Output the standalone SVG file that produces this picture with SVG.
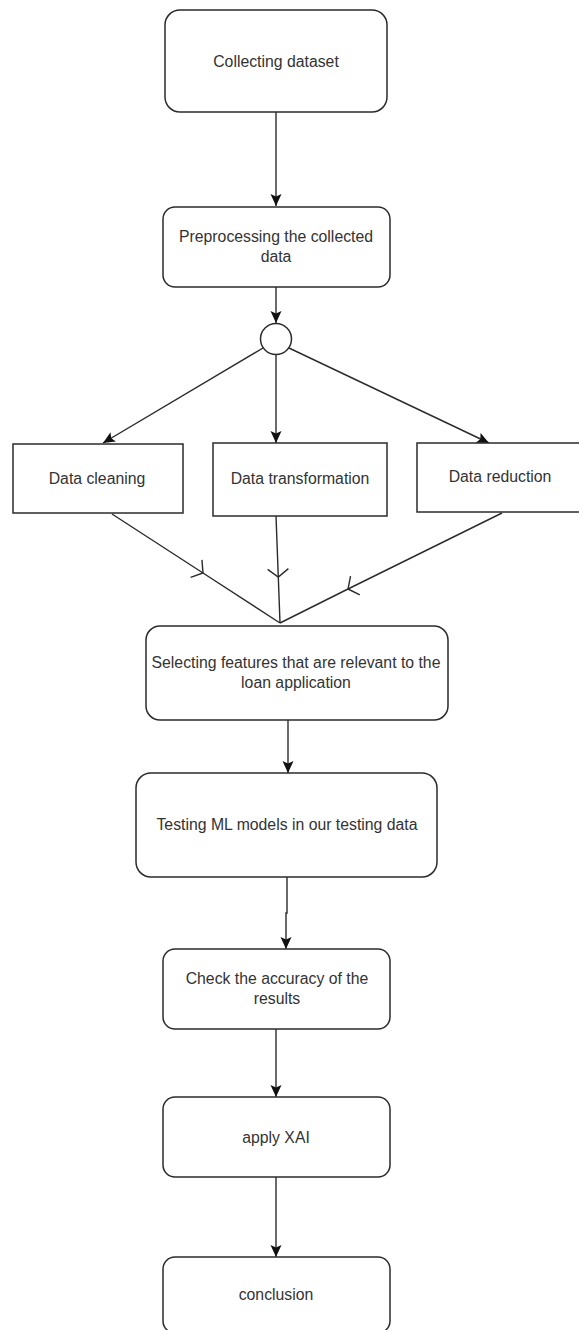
<svg xmlns="http://www.w3.org/2000/svg" width="579" height="1330" viewBox="0 0 579 1330">
<style>
.box{fill:#ffffff;stroke:#2b2b2b;stroke-width:1.5}
.lbl{font-family:"Liberation Sans",Arial,sans-serif;font-size:15.8px;fill:#333333;text-anchor:middle}
.conn{fill:none;stroke:#2b2b2b;stroke-width:1.4}
</style>
<defs>
<marker id="arr" markerUnits="userSpaceOnUse" markerWidth="14" markerHeight="12" refX="12" refY="5.5" orient="auto" viewBox="0 0 14 12">
<path d="M0,0 L12,5.5 L0,11 L2.5,5.5 z" fill="#111111"/>
</marker>
<marker id="open" markerUnits="userSpaceOnUse" markerWidth="20" markerHeight="26" refX="10" refY="13" orient="auto" viewBox="0 0 20 26">
<path d="M2,2.6 L10,13 L2,23.4" fill="none" stroke="#2b2b2b" stroke-width="1.4"/>
</marker>
</defs>
<rect width="579" height="1330" fill="#ffffff"/>
<g id="connectors">
<line class="conn" x1="276" y1="112" x2="276" y2="206" marker-end="url(#arr)"/>
<line class="conn" x1="276" y1="287" x2="276" y2="323" marker-end="url(#arr)"/>
<line class="conn" x1="263" y1="348" x2="103" y2="443" marker-end="url(#arr)"/>
<line class="conn" x1="276" y1="355" x2="276" y2="443" marker-end="url(#arr)"/>
<line class="conn" x1="289" y1="348" x2="489" y2="443" marker-end="url(#arr)"/>
<polyline class="conn" points="112,514 203,573 280,623" marker-mid="url(#open)"/>
<polyline class="conn" points="276,516 278.3,577 280,623" marker-mid="url(#open)"/>
<polyline class="conn" points="502,513 348,589 280,623" marker-mid="url(#open)"/>
<line class="conn" x1="288" y1="720" x2="288" y2="773" marker-end="url(#arr)"/>
<polyline class="conn" points="287,877 287,913 286,913 286,949" marker-end="url(#arr)"/>
<line class="conn" x1="276" y1="1029" x2="276" y2="1097" marker-end="url(#arr)"/>
<line class="conn" x1="276" y1="1177" x2="276" y2="1257" marker-end="url(#arr)"/>
</g>
<g id="collecting">
<rect class="box" x="165" y="10" width="222" height="102" rx="15" ry="15"/>
<text class="lbl" x="276" y="67">Collecting dataset</text>
</g>
<g id="preprocessing">
<rect class="box" x="163" y="207" width="227" height="80" rx="12" ry="12"/>
<text class="lbl" x="276" y="242">Preprocessing the collected</text>
<text class="lbl" x="276" y="262">data</text>
</g>
<g id="fork">
<circle class="box" cx="276" cy="339" r="15.5"/>
</g>
<g id="cleaning">
<rect class="box" x="13" y="444" width="170" height="69"/>
<text class="lbl" x="97" y="484">Data cleaning</text>
</g>
<g id="transformation">
<rect class="box" x="213" y="443" width="174" height="73"/>
<text class="lbl" x="300" y="484">Data transformation</text>
</g>
<g id="reduction">
<rect class="box" x="417" y="443" width="168" height="69"/>
<text class="lbl" x="500" y="482">Data reduction</text>
</g>
<g id="selecting">
<rect class="box" x="146" y="626" width="302" height="94" rx="14" ry="14"/>
<text class="lbl" x="296" y="668">Selecting features that are relevant to the</text>
<text class="lbl" x="296" y="688">loan application</text>
</g>
<g id="testing">
<rect class="box" x="136" y="773" width="301" height="104" rx="15" ry="15"/>
<text class="lbl" x="287" y="830">Testing ML models in our testing data</text>
</g>
<g id="check">
<rect class="box" x="163" y="949" width="227" height="80" rx="12" ry="12"/>
<text class="lbl" x="277" y="984">Check the accuracy of the</text>
<text class="lbl" x="277" y="1004">results</text>
</g>
<g id="xai">
<rect class="box" x="163" y="1097" width="227" height="80" rx="12" ry="12"/>
<text class="lbl" x="276" y="1143">apply XAI</text>
</g>
<g id="conclusion">
<rect class="box" x="163" y="1257" width="227" height="76" rx="12" ry="12"/>
<text class="lbl" x="276" y="1300">conclusion</text>
</g>
</svg>
